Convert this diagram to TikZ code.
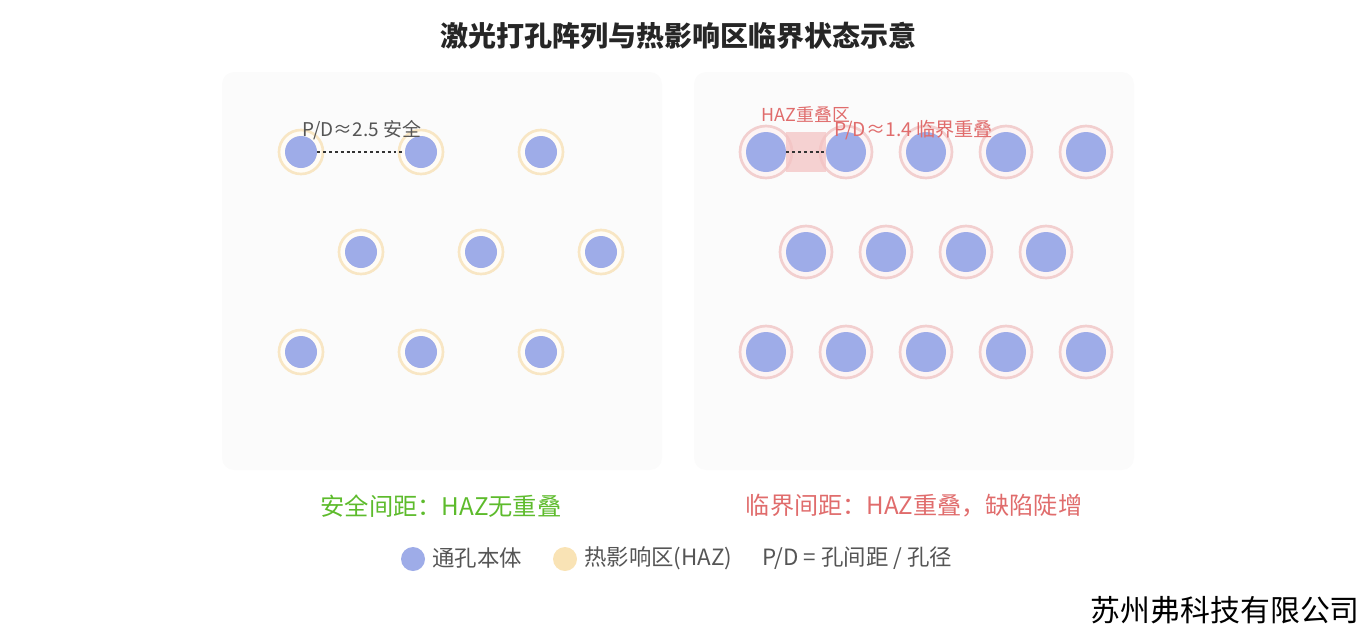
\documentclass[tikz,border=0pt]{standalone}
\usepackage{fontspec}
\setmainfont{Noto Sans CJK SC}
\usetikzlibrary{positioning}
\definecolor{panelgray}{HTML}{FBFBFB}
\definecolor{holeblue}{HTML}{9EACE8}
\definecolor{hazokline}{HTML}{F8E6C4}
\definecolor{hazokfill}{HTML}{FFFCF6}
\definecolor{hazhotline}{HTML}{F2CFCF}
\definecolor{hazhotfill}{HTML}{FDF4F4}
\definecolor{overlappink}{HTML}{F4C3C3}
\definecolor{hazdot}{HTML}{F9E3B5}
\definecolor{okgreen}{HTML}{5DBB2C}
\definecolor{hotred}{HTML}{E06C6C}
\definecolor{textgray}{HTML}{555555}

\begin{document}
\begin{tikzpicture}[x=0.75pt,y=-0.75pt,
  panel/.style={fill=panelgray, rounded corners=9pt},
  haz/.style={circle, inner sep=0pt, line width=2pt},
  hazok/.style={haz, minimum size=33pt, fill=hazokfill, draw=hazokline},
  hazhot/.style={haz, minimum size=39pt, fill=hazhotfill, draw=hazhotline},
  hole/.style={circle, inner sep=0pt, fill=holeblue},
  holeok/.style={hole, minimum size=24pt},
  holehot/.style={hole, minimum size=30pt},
  pitch/.style={draw=black!80, line width=1.1pt, dash pattern=on 2.2pt off 2.2pt},
  legend/.style={font=\fontsize{16.8}{20}\selectfont, text=textgray, anchor=west, inner sep=0pt}]
  \useasboundingbox (0,0) rectangle (1362,626);

  % title
  \node[font=\fontsize{21}{25}\selectfont\bfseries, text=black!85] (title) at (678,36)
    {激光打孔阵列与热影响区临界状态示意};

  % panels
  \fill[panel] (222,72) rectangle (662,470);
  \fill[panel] (694,72) rectangle (1134,470);

  % safe pitch array
  \foreach \n/\x/\y in {a1/301/152,a2/421/152,a3/541/152,
                        b1/361/252,b2/481/252,b3/601/252,
                        c1/301/352,c2/421/352,c3/541/352} {
    \node[hazok] (lh\n) at (\x,\y) {};
    \node[holeok] (l\n) at (\x,\y) {};
  }
  \draw[pitch] (la1.east) -- (la2.west);
  \node[font=\fontsize{14.2}{17}\selectfont, text=textgray] (lpd) at (362,130) {P/D≈2.5 安全};

  % critical pitch array
  \foreach \n/\x/\y in {a1/766/152,a2/846/152,a3/926/152,a4/1006/152,a5/1086/152,
                        b1/806/252,b2/886/252,b3/966/252,b4/1046/252,
                        c1/766/352,c2/846/352,c3/926/352,c4/1006/352,c5/1086/352} {
    \node[hazhot] (rh\n) at (\x,\y) {};
  }
  \fill[overlappink, opacity=0.75] (766+20,132) rectangle (846-20,172);
  \foreach \n/\x/\y in {a1/766/152,a2/846/152,a3/926/152,a4/1006/152,a5/1086/152,
                        b1/806/252,b2/886/252,b3/966/252,b4/1046/252,
                        c1/766/352,c2/846/352,c3/926/352,c4/1006/352,c5/1086/352} {
    \node[holehot] (r\n) at (\x,\y) {};
  }
  \draw[pitch] (ra1.east) -- (ra2.west);
  \node[font=\fontsize{13.4}{16}\selectfont, text=hotred] (rover) at (806,115) {HAZ重叠区};
  \node[font=\fontsize{14.4}{17}\selectfont, text=hotred] (rpd) at (914,130) {P/D≈1.4 临界重叠};

  % captions
  \node[font=\fontsize{18.2}{22}\selectfont, text=okgreen] (lcap) at (441,506) {安全间距：HAZ无重叠};
  \node[font=\fontsize{18.1}{22}\selectfont, text=hotred] (rcap) at (914,506) {临界间距：HAZ重叠，缺陷陡增};

  % legend
  \node[circle, fill=holeblue, minimum size=18pt, inner sep=0pt] (keyhole) at (413,559) {};
  \node[legend] (keyholetxt) at (432,558) {通孔本体};
  \node[circle, fill=hazdot, minimum size=18pt, inner sep=0pt] (keyhaz) at (565,559) {};
  \node[legend] (keyhaztxt) at (584,558) {热影响区(HAZ)};
  \node[legend] (keypd) at (762,558) {P/D = 孔间距 / 孔径};

  % company mark
  \node[font=\fontsize{22.4}{26}\selectfont, anchor=east, inner sep=0pt] (company) at (1360,610) {苏州弗科技有限公司};
\end{tikzpicture}
\end{document}
